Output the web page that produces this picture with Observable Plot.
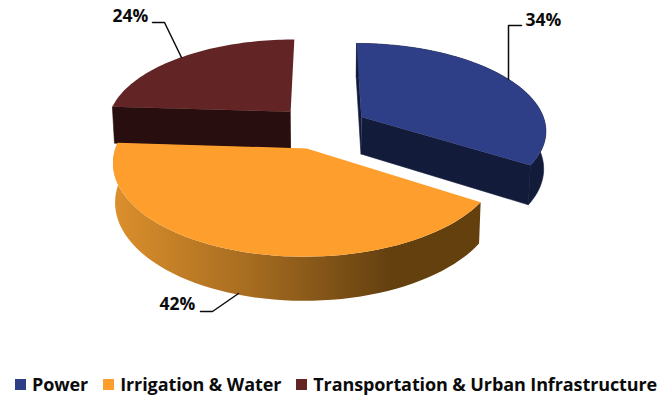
<!DOCTYPE html>
<html>
<head>
<meta charset="utf-8">
<script src="https://cdn.jsdelivr.net/npm/d3@7"></script>
<script src="https://cdn.jsdelivr.net/npm/@observablehq/plot@0.6"></script>
<style>
  html, body { margin: 0; padding: 0; background: #fff; }
  body { width: 671px; height: 395px; overflow: hidden; font-family: "Open Sans", sans-serif; }
  #legend { display: flex; position: absolute; left: 15px; top: 373px; font-weight: 700; font-size: 18px; line-height: 22px; color: #0b0b0b; white-space: nowrap; letter-spacing: -0.1px; }
  #legend span.item { display: inline-flex; align-items: center; }
  #legend i { display: inline-block; width: 11px; height: 11px; margin-right: 6px; }
</style>
</head>
<body>
<div id="chart"></div>
<div id="legend"></div>
<script>
// Investment shares by sector, clockwise from twelve o'clock
const sectors = ["Power", "Irrigation & Water", "Transportation & Urban Infrastructure"];
const shares = [34, 42, 24];
const labels = ["34%", "42%", "24%"];

const topColors = ["#2f3f87", "#fe9f2d", "#622424"];
const sideColors = ["#121b3a", "url(#orange-wall)", "#280e0e"];

// Pie seen in perspective: unit disc -> chart coordinates
const view = {cx: 321, cy: 126.7, rx: 185, ry: 86.5, p: 0.14, explode: 0.25, depth: 37.5, depthGrow: 4.4, narrow: 0.99};

function project(u, v, bottom) {
  const k = 1 / (1 - view.p * v);
  const x = view.cx + view.rx * u * k * (bottom ? view.narrow : 1);
  const y = view.cy + view.ry * v * k + (bottom ? view.depth + view.depthGrow * v * k : 0);
  return {x, y};
}

const arcs = d3.pie().sort(null).value(d => d)(shares);

// Disc coordinates of a rim point (or the apex when r = 0) for one exploded slice
function rim(arc, angle, r, bottom) {
  const mid = (arc.startAngle + arc.endAngle) / 2;
  const u = view.explode * Math.sin(mid) + r * Math.sin(angle);
  const v = -view.explode * Math.cos(mid) - r * Math.cos(angle);
  return project(u, v, bottom);
}

function arcPoints(arc, from, to, bottom) {
  return d3.range(0, 61).map(i => rim(arc, from + (to - from) * i / 60, 1, bottom));
}

const topFace = arc => [rim(arc, 0, 0, false), ...arcPoints(arc, arc.startAngle, arc.endAngle, false)];
const wall = (arc, from, to) => [...arcPoints(arc, from, to, false), ...arcPoints(arc, from, to, true).reverse()];
const radialWall = (arc, angle) => [rim(arc, 0, 0, false), rim(arc, angle, 1, false), rim(arc, angle, 1, true), rim(arc, 0, 0, true)];

const poly = (points, fill) => Plot.line(points, {x: "x", y: "y", fill, stroke: "none", curve: "linear"});
// Dark walls get a hairline of their own colour so neighbouring faces close up
const darkPoly = (points, fill) => Plot.line(points, {x: "x", y: "y", fill, stroke: fill, strokeWidth: 0.6, curve: "linear"});

const [power, water, transport] = arcs;

// Shading along the front wall of the largest slice
const wallStops = [[113, "#dc8f2c"], [250, "#a66c20"], [390, "#64400f"], [480, "#64400f"]];
const gradientDefs = () => {
  const defs = d3.create("svg:defs");
  const g = defs.append("linearGradient").attr("id", "orange-wall").attr("gradientUnits", "userSpaceOnUse")
    .attr("x1", wallStops[0][0]).attr("x2", wallStops[3][0]).attr("y1", 0).attr("y2", 0);
  const span = wallStops[3][0] - wallStops[0][0];
  wallStops.forEach(([x, c]) => g.append("stop").attr("offset", (x - wallStops[0][0]) / span).attr("stop-color", c));
  return defs.node();
};

// Leader lines: rim anchor, elbow, end next to the label
const leaders = [
  [{x: 508, y: 79}, {x: 508, y: 25}, {x: 521, y: 25}],
  [{x: 238, y: 293}, {x: 212, y: 311}, {x: 200, y: 311}],
  [{x: 181, y: 57}, {x: 164, y: 22}, {x: 152, y: 22}]
];
const labelSpots = [
  {x: 543, y: 20, text: labels[0]},
  {x: 177, y: 304, text: labels[1]},
  {x: 130, y: 16, text: labels[2]}
];

const plot = Plot.plot({
  width: 671,
  height: 365,
  margin: 0,
  x: {domain: [0, 671], range: [0, 671], axis: null},
  y: {domain: [0, 365], range: [0, 365], axis: null},
  marks: [
    gradientDefs,
    // back slices first
    darkPoly(radialWall(transport, transport.startAngle), sideColors[2]),
    poly(topFace(transport), topColors[2]),
    darkPoly(radialWall(power, power.startAngle), sideColors[0]),
    darkPoly(radialWall(power, power.endAngle), sideColors[0]),
    darkPoly(wall(power, power.startAngle, power.endAngle), sideColors[0]),
    poly(topFace(power), topColors[0]),
    // front slice over everything else
    poly(wall(water, water.startAngle, water.endAngle), sideColors[1]),
    poly(topFace(water), topColors[1]),
    ...leaders.map(points => Plot.line(points, {x: "x", y: "y", stroke: "#0b0b0b", strokeWidth: 1.5, curve: "linear"})),
    Plot.text(labelSpots, {x: "x", y: "y", text: "text", fontSize: 17.5, fontWeight: 700, fontFamily: "'Open Sans', sans-serif", fill: "#0b0b0b", letterSpacing: -0.25})
  ]
});
document.getElementById("chart").appendChild(plot);

// Sector key under the pie
const legend = d3.select("#legend");
sectors.forEach((name, i) => {
  const item = legend.append("span").attr("class", "item").style("margin-right", i < 2 ? "15px" : 0);
  item.append("i").style("background", topColors[i]);
  item.append("span").text(name);
});
</script>
</body>
</html>
